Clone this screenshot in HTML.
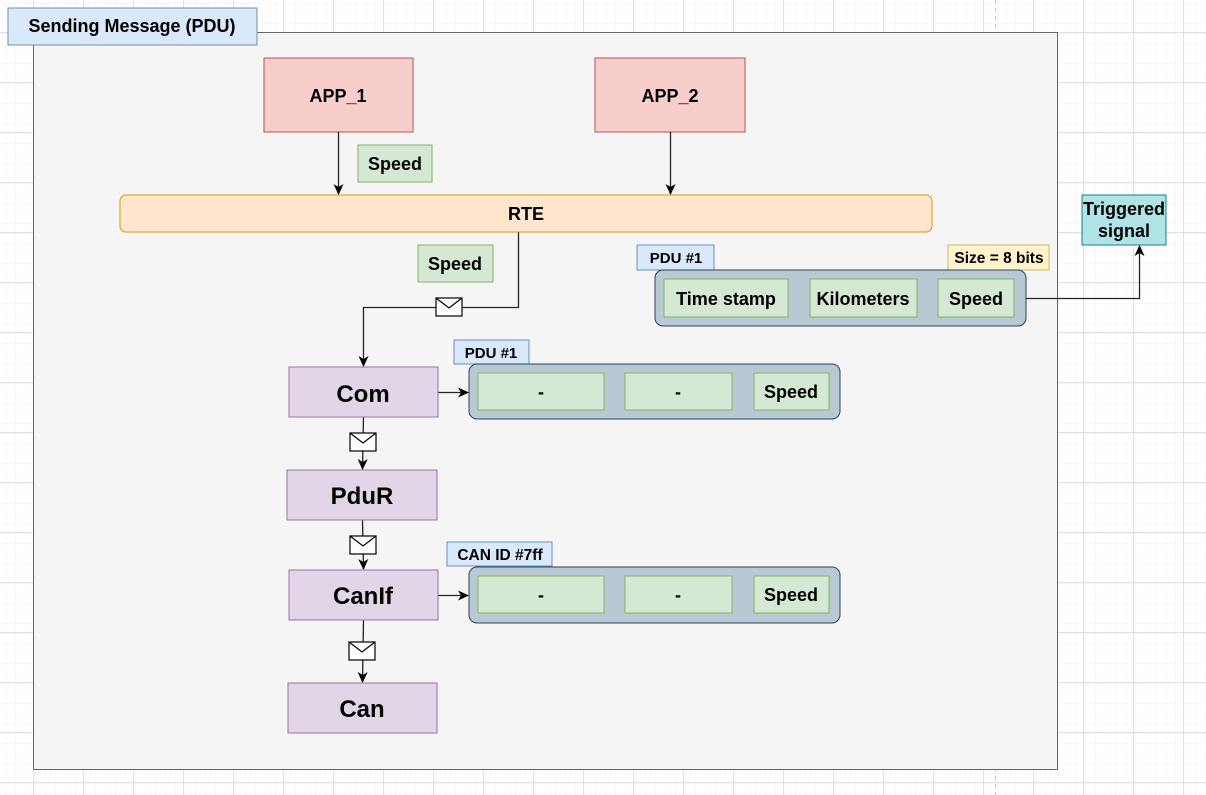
<!DOCTYPE html>
<html><head><meta charset="utf-8"><style>
html,body{margin:0;padding:0;background:#fff;}
svg{display:block;}
text{font-family:"Liberation Sans",sans-serif;font-weight:bold;fill:#000;}
</style></head><body>
<svg width="1206" height="795" viewBox="0 0 1206 795" xmlns="http://www.w3.org/2000/svg">
<defs>
<pattern id="gm" width="10" height="10" patternUnits="userSpaceOnUse" x="3" y="2">
<path d="M10 0V10M0 10H10" stroke="#f0f0f0" stroke-width="1" fill="none"/>
</pattern>
<pattern id="gM" width="50" height="50" patternUnits="userSpaceOnUse" x="33" y="32">
<rect width="50" height="50" fill="url(#gm)"/>
<path d="M0.5 0V50M0 0.5H50" stroke="#e0e0e0" stroke-width="1" fill="none"/>
</pattern>
<marker id="ar" markerWidth="12" markerHeight="12" refX="10" refY="6" orient="auto" markerUnits="userSpaceOnUse">
<path d="M0 1 L11 6 L0 11 L3 6Z" fill="#000"/>
</marker>
<g id="env"><rect x="-13" y="-9" width="26" height="18" fill="#fff" stroke="#000" stroke-width="1.2"/><path d="M-13 -9 L0 1 L13 -9" fill="none" stroke="#000" stroke-width="1.2"/></g>
</defs>
<rect width="1206" height="795" fill="url(#gM)"/>
<line x1="995.5" y1="0" x2="995.5" y2="795" stroke="#c8c8c8" stroke-dasharray="4 4"/>
<rect x="33.5" y="32.5" width="1024" height="737" fill="#f5f5f5" stroke="#666"/>
<rect x="8" y="8" width="249" height="37" fill="#dae8fc" stroke="#6c8ebf"/>
<text x="132" y="32" font-size="18" text-anchor="middle">Sending Message (PDU)</text>

<rect x="264" y="58" width="149" height="74" fill="#f8cecc" stroke="#b85450"/>
<text x="338" y="102" font-size="18" text-anchor="middle">APP_1</text>
<rect x="595" y="58" width="150" height="74" fill="#f8cecc" stroke="#b85450"/>
<text x="670" y="102" font-size="18" text-anchor="middle">APP_2</text>

<g stroke="#222" stroke-width="1.3" fill="none">
<line x1="338.5" y1="132" x2="338.5" y2="194" marker-end="url(#ar)"/>
<line x1="670.5" y1="132" x2="670.5" y2="194" marker-end="url(#ar)"/>
<polyline points="518.5,232 518.5,307.5 363.5,307.5 363.5,366" marker-end="url(#ar)"/>
<line x1="363.5" y1="417" x2="362.5" y2="469" marker-end="url(#ar)"/>
<line x1="362.5" y1="520" x2="363.5" y2="569" marker-end="url(#ar)"/>
<line x1="363.5" y1="620" x2="362.5" y2="682" marker-end="url(#ar)"/>
<line x1="438" y1="392.5" x2="468" y2="392.5" marker-end="url(#ar)"/>
<line x1="438" y1="595.5" x2="468" y2="595.5" marker-end="url(#ar)"/>
<polyline points="1014,298.5 1139.5,298.5 1139.5,246" marker-end="url(#ar)"/>
</g>

<rect x="358" y="145" width="74" height="37" fill="#d5e8d4" stroke="#82b366"/>
<text x="395" y="170" font-size="18" text-anchor="middle">Speed</text>

<rect x="120" y="195" width="812" height="37" rx="6" fill="#ffe6cc" stroke="#d79b00"/>
<text x="526" y="220" font-size="18" text-anchor="middle">RTE</text>

<rect x="418" y="245" width="75" height="37" fill="#d5e8d4" stroke="#82b366"/>
<text x="455" y="270" font-size="18" text-anchor="middle">Speed</text>

<use href="#env" x="449" y="307"/>
<use href="#env" x="363" y="442"/>
<use href="#env" x="363" y="545"/>
<use href="#env" x="362" y="651"/>

<rect x="289" y="367" width="149" height="50" fill="#e1d5e7" stroke="#9673a6"/>
<text x="363" y="402" font-size="24" text-anchor="middle">Com</text>
<rect x="287" y="470" width="150" height="50" fill="#e1d5e7" stroke="#9673a6"/>
<text x="362" y="504" font-size="24" text-anchor="middle">PduR</text>
<rect x="289" y="570" width="149" height="50" fill="#e1d5e7" stroke="#9673a6"/>
<text x="363" y="604" font-size="24" text-anchor="middle">CanIf</text>
<rect x="288" y="683" width="149" height="50" fill="#e1d5e7" stroke="#9673a6"/>
<text x="362" y="717" font-size="24" text-anchor="middle">Can</text>

<!-- Com PDU -->
<rect x="454" y="340" width="75" height="24" fill="#dae8fc" stroke="#6c8ebf"/>
<text x="491" y="358" font-size="15" text-anchor="middle">PDU #1</text>
<rect x="469" y="364" width="371" height="55" rx="8" fill="#bac8d3" stroke="#23445d"/>
<rect x="478" y="373" width="126" height="37" fill="#d5e8d4" stroke="#82b366"/>
<text x="541" y="398" font-size="18" text-anchor="middle">-</text>
<rect x="625" y="373" width="107" height="37" fill="#d5e8d4" stroke="#82b366"/>
<text x="678" y="398" font-size="18" text-anchor="middle">-</text>
<rect x="754" y="373" width="75" height="37" fill="#d5e8d4" stroke="#82b366"/>
<text x="791" y="398" font-size="18" text-anchor="middle">Speed</text>

<!-- CanIf -->
<rect x="447" y="542" width="105" height="24" fill="#dae8fc" stroke="#6c8ebf"/>
<text x="500" y="560" font-size="15.5" text-anchor="middle">CAN ID #7ff</text>
<rect x="469" y="567" width="371" height="56" rx="8" fill="#bac8d3" stroke="#23445d"/>
<rect x="478" y="576" width="126" height="37" fill="#d5e8d4" stroke="#82b366"/>
<text x="541" y="601" font-size="18" text-anchor="middle">-</text>
<rect x="625" y="576" width="107" height="37" fill="#d5e8d4" stroke="#82b366"/>
<text x="678" y="601" font-size="18" text-anchor="middle">-</text>
<rect x="754" y="576" width="75" height="37" fill="#d5e8d4" stroke="#82b366"/>
<text x="791" y="601" font-size="18" text-anchor="middle">Speed</text>

<!-- Upper PDU -->
<rect x="637" y="245" width="77" height="25" fill="#dae8fc" stroke="#6c8ebf"/>
<text x="676" y="263" font-size="15" text-anchor="middle">PDU #1</text>
<rect x="948" y="245" width="101" height="25" fill="#fff2cc" stroke="#d6b656"/>
<text x="999" y="263" font-size="15.5" text-anchor="middle">Size = 8 bits</text>
<rect x="655" y="270" width="371" height="56" rx="8" fill="#bac8d3" stroke="#23445d"/>
<rect x="664" y="279" width="124" height="38" fill="#d5e8d4" stroke="#82b366"/>
<text x="726" y="305" font-size="18" text-anchor="middle">Time stamp</text>
<rect x="810" y="279" width="107" height="38" fill="#d5e8d4" stroke="#82b366"/>
<text x="863" y="305" font-size="18" text-anchor="middle">Kilometers</text>
<rect x="938" y="279" width="76" height="38" fill="#d5e8d4" stroke="#82b366"/>
<text x="976" y="305" font-size="18" text-anchor="middle">Speed</text>

<rect x="1082" y="195" width="84" height="50" fill="#b0e3e6" stroke="#0e8088"/>
<text x="1124" y="215" font-size="18" text-anchor="middle">Triggered</text>
<text x="1124" y="237" font-size="18" text-anchor="middle">signal</text>
</svg>
</body></html>
